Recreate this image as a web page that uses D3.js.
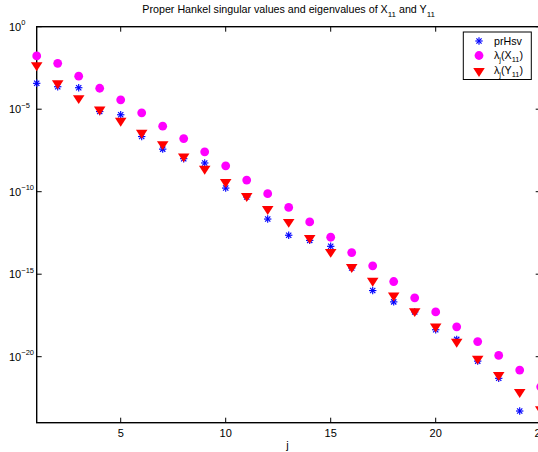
<!DOCTYPE html>
<html>
<head>
<meta charset="utf-8">
<script src="https://cdn.jsdelivr.net/npm/d3@7"></script>
<style>
  html, body { margin: 0; padding: 0; background: #fff; overflow: hidden; }
  svg { display: block; font-family: "Liberation Sans", Arial, Helvetica, sans-serif; }
</style>
</head>
<body>
<svg id="chart" width="538" height="452"></svg>
<script>
// Index j of each singular value / eigenvalue
const jValues = d3.range(1, 26);

// Proper Hankel singular values
const prHsv = [3.7e-4, 2.3e-4, 2.0e-4, 7.2e-6, 4.6e-6, 2.2e-7, 3.8e-8, 1.0e-8, 5.5e-9, 1.66e-10,
  4.8e-11, 2.2e-12, 2.3e-13, 1.12e-13, 4.9e-14, 2.4e-15, 1.02e-16, 2.1e-17, 5.2e-18, 4.3e-19,
  1.12e-19, 5.4e-21, 4.9e-22, 5.1e-24, 5.0e-25];

// Eigenvalues of X11
const lambdaX11 = [1.7e-2, 6.0e-3, 1.0e-3, 1.86e-4, 3.7e-5, 6.0e-6, 9.3e-7, 1.66e-7, 2.6e-8, 3.7e-9,
  5.1e-10, 7.6e-11, 1.12e-11, 1.48e-12, 1.74e-13, 2.04e-14, 3.2e-15, 3.6e-16, 3.7e-17, 5.2e-18,
  6.5e-19, 8.3e-20, 1.2e-20, 1.55e-21, 1.5e-22];

// Eigenvalues of Y11
const lambdaY11 = [4.6e-3, 3.7e-4, 4.7e-5, 9.5e-6, 2.0e-6, 3.7e-7, 7.6e-8, 1.38e-8, 2.45e-9, 3.9e-10,
  5.5e-11, 8.9e-12, 1.48e-12, 1.58e-13, 2.24e-14, 2.75e-15, 4.0e-16, 5.1e-17, 5.75e-18, 6.8e-19,
  8.1e-20, 7.6e-21, 7.8e-22, 7.2e-23, 6.5e-24];

const xTicks = [5, 10, 15, 20, 25];
const yTickExponents = [0, -5, -10, -15, -20];

const svg = d3.select("#chart");
const plotLeft = 36.7, plotRight = 540.7, plotTop = 26.7, plotBottom = 422.7;

const x = d3.scaleLinear().domain([1, 25]).range([plotLeft, plotRight]);
const y = d3.scaleLog().domain([1e-24, 1]).range([plotBottom, plotTop]);

const tickLen = 5;
const g = svg.append("g");

// Axes box
g.append("rect")
  .attr("x", plotLeft).attr("y", plotTop)
  .attr("width", plotRight - plotLeft).attr("height", plotBottom - plotTop)
  .attr("fill", "none").attr("stroke", "#000").attr("stroke-width", 1.4);

// X ticks (bottom and top, pointing inward)
xTicks.forEach(t => {
  const xp = x(t);
  g.append("line").attr("x1", xp).attr("x2", xp).attr("y1", plotBottom).attr("y2", plotBottom - tickLen)
    .attr("stroke", "#000").attr("stroke-width", 1);
  g.append("line").attr("x1", xp).attr("x2", xp).attr("y1", plotTop).attr("y2", plotTop + tickLen)
    .attr("stroke", "#000").attr("stroke-width", 1);
  g.append("text").attr("x", xp).attr("y", 437).attr("text-anchor", "middle")
    .attr("font-size", 11).text(t);
});

// Y ticks (left and right, pointing inward) with 10^n labels
yTickExponents.forEach(e => {
  const yp = y(Math.pow(10, e));
  g.append("line").attr("x1", plotLeft).attr("x2", plotLeft + tickLen).attr("y1", yp).attr("y2", yp)
    .attr("stroke", "#000").attr("stroke-width", 1);
  g.append("line").attr("x1", plotRight).attr("x2", plotRight - tickLen).attr("y1", yp).attr("y2", yp)
    .attr("stroke", "#000").attr("stroke-width", 1);
  const t = g.append("text").attr("x", 9).attr("y", yp + 4).attr("font-size", 11);
  t.append("tspan").text("10");
  t.append("tspan").attr("dy", -5.7).attr("font-size", 7.5)
    .text(e === 0 ? "0" : "\u2212" + Math.abs(e));
});

// Title
const title = svg.append("text").attr("x", (plotLeft + plotRight) / 2).attr("y", 13)
  .attr("text-anchor", "middle").attr("font-size", 10.7);
title.append("tspan").text("Proper Hankel singular values and eigenvalues of X");
title.append("tspan").attr("dy", 3.5).attr("font-size", 8).text("11");
title.append("tspan").attr("dy", -3.5).text(" and Y");
title.append("tspan").attr("dy", 3.5).attr("font-size", 8).text("11");

// X label
svg.append("text").attr("x", 287.5).attr("y", 449).attr("text-anchor", "middle")
  .attr("font-size", 11).text("j");

// Marker shapes
const circleR = 4.4;
const triPath = d3.symbol().type(d3.symbolTriangle).size(46)();

function drawAsterisk(sel, cx, cy, r) {
  const a = sel.append("g").attr("transform", `translate(${cx},${cy})`)
    .attr("stroke", "#0000ff").attr("stroke-width", 1.15).attr("fill", "none");
  const d = r * Math.SQRT1_2;
  a.append("line").attr("x1", -r).attr("x2", r).attr("y1", 0).attr("y2", 0);
  a.append("line").attr("x1", 0).attr("x2", 0).attr("y1", -r).attr("y2", r);
  a.append("line").attr("x1", -d).attr("x2", d).attr("y1", -d).attr("y2", d);
  a.append("line").attr("x1", -d).attr("x2", d).attr("y1", d).attr("y2", -d);
}

function drawCircle(sel, cx, cy) {
  sel.append("circle").attr("cx", cx).attr("cy", cy).attr("r", circleR).attr("fill", "#ff00ff");
}

function drawTriangle(sel, cx, cy) {
  sel.append("path").attr("d", triPath)
    .attr("transform", `translate(${cx},${cy}) rotate(180) scale(1.12,1)`)
    .attr("fill", "#ff0000");
}

const inRange = v => v >= 1e-24 && v <= 1;
const marks = svg.append("g");

jValues.forEach((j, i) => {
  if (inRange(prHsv[i])) drawAsterisk(marks, x(j), y(prHsv[i]), 3.7);
});
jValues.forEach((j, i) => {
  if (inRange(lambdaX11[i])) drawCircle(marks, x(j), y(lambdaX11[i]));
});
jValues.forEach((j, i) => {
  if (inRange(lambdaY11[i])) drawTriangle(marks, x(j), y(lambdaY11[i]));
});

// Legend
const leg = svg.append("g");
leg.append("rect").attr("x", 463.3).attr("y", 32).attr("width", 68).attr("height", 47.5)
  .attr("fill", "#fff").attr("stroke", "#000").attr("stroke-width", 1);
const lx = 479, tx = 494;
drawAsterisk(leg, lx, 41, 3.7);
drawCircle(leg, lx, 55.5);
drawTriangle(leg, lx, 71);

leg.append("text").attr("x", tx).attr("y", 44.5).attr("font-size", 10.7).text("prHsv");

function lambdaLabel(yb, letter) {
  const t = leg.append("text").attr("x", tx).attr("y", yb).attr("font-size", 10.7);
  t.append("tspan").text("\u03bb");
  t.append("tspan").attr("dy", 3).attr("font-size", 7.5).text("j");
  t.append("tspan").attr("dy", -3).text("(" + letter);
  t.append("tspan").attr("dy", 3).attr("font-size", 7.5).text("11");
  t.append("tspan").attr("dy", -3).text(")");
}
lambdaLabel(58.5, "X");
lambdaLabel(74, "Y");
</script>
</body>
</html>
